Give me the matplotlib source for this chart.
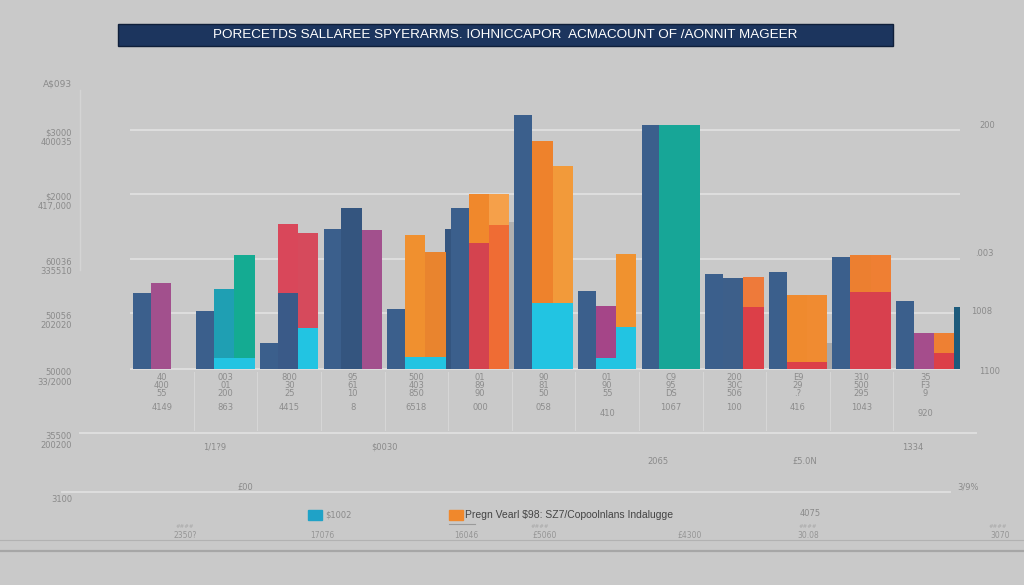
import numpy as np
import matplotlib.pyplot as plt
from matplotlib.patches import Rectangle
from matplotlib.lines import Line2D

# barras agrupadas con etiquetas "garabateadas" como en la imagen original

categorias = ["40", "003", "800", "95", "500", "01", "90", "01", "C9", "200", "E9", "310", "35"]

# alturas de cada serie por grupo
azul = [76, 58, 26, 140, 60, 161, 254, 78, 244, 95, 97, 112, 68]
medio = [86, 80, 145, 161, 134, 175, 228, 63, 244, 91, 74, 114, 36]
derecha = [0, 114, 136, 139, 117, 175, 203, 115, 244, 92, 74, 114, 36]
base_medio = [0, 11, 76, 0, 12, 126, 66, 11, 0, 0, 7, 77, 0]
base_derecha = [0, 11, 41, 0, 12, 144, 66, 42, 0, 62, 7, 77, 16]
borde = [0, 0, 0, 0, 140, 147, 0, 0, 0, 0, 26, 0, 62]

# etiquetas bajo cada grupo (4 filas)
fila1 = ["40", "003", "800", "95", "500", "01", "90", "01", "C9", "200", "E9", "310", "35"]
fila2 = ["400", "01", "30", "61", "403", "89", "81", "90", "95", "30C", "29", "500", "F3"]
fila3 = ["55", "200", "25", "10", "850", "90", "50", "55", "DS", "506", ".?", "295", "9"]
fila4 = ["4149", "863", "4415", "8", "6518", "000", "058", "410", "1067", "100", "416", "1043", "920"]

ticks_y = [239, 175, 110, 56, 0]
ticks_bajo = [-64, -123]
etiquetas_izq = ["$3000\n400035", "$2000\n417,000", "60036\n335510", "50056\n202020",
                 "50000\n33/2000", "35500\n200200", "3100"]

# colores
c_azul = '#3b5f8c'
col_medio = ['#a2508d', '#1f9fb3', '#d9475a', '#34557f', '#f0902f', '#f0882c', '#ee822c',
             '#a54588', '#17a697', '#3d5f8a', '#ef8a2e', '#ec7f30', '#a54d8c']
col_derecha = ['#a2508d', '#14ab92', '#d64a5c', '#a2508d', '#e9842e', '#f5a04a', '#f29a3a',
               '#f0922f', '#17a697', '#ee7a3a', '#f08b31', '#ef7f33', '#ee8033']
col_base_medio = ['#22c4e2', '#22c4e2', '#3a5a88', '#22c4e2', '#22c4e2', '#d4434f', '#22c4e2',
                  '#22c4e2', '#22c4e2', '#22c4e2', '#dc3f48', '#d8404e', '#22c4e2']
col_base_derecha = ['#22c4e2', '#22c4e2', '#22c4e2', '#22c4e2', '#22c4e2', '#ef6c34', '#22c4e2',
                    '#22c4e2', '#22c4e2', '#dc3f48', '#dc3f48', '#d8404e', '#dc3f48']
col_borde = ['#a9a9a9', '#a9a9a9', '#a9a9a9', '#a9a9a9', '#34557f', '#b0b0b0', '#a9a9a9',
             '#a9a9a9', '#a9a9a9', '#a9a9a9', '#a9a9a9', '#a9a9a9', '#1d5b7c']

fondo = '#c9c9c9'
W, H = 1024, 585


def px(x, y):
    return x / W, 1 - y / H


fig = plt.figure(figsize=(10.24, 5.85), dpi=100, facecolor=fondo)
ax = fig.add_axes([130 / W, 85 / H, 830 / W, 400 / H])
ax.set_facecolor(fondo)
ax.set_xlim(-0.503, 12.547)
ax.set_ylim(-131, 269)
ax.axis('off')

x = np.arange(len(categorias))

# lineas horizontales
for t in ticks_y:
    ax.axhline(t, color='#dedede', lw=1.4, zorder=0)
# las dos de abajo son mas largas que el area de barras
for t, x0, x1 in zip(ticks_bajo, [80, 62], [976, 950]):
    yy = 1 - (369 - t) / H
    fig.add_artist(Line2D([x0 / W, x1 / W], [yy, yy], color='#dedede', lw=1.4))

# barras
ax.bar(x - 0.32, azul, 0.28, color=c_azul, zorder=2)
ax.bar(x - 0.02, medio, 0.32, color=col_medio, zorder=2)
ax.bar(x + 0.30, derecha, 0.32, color=col_derecha, zorder=2)
ax.bar(x - 0.02, base_medio, 0.32, color=col_base_medio, zorder=3)
ax.bar(x + 0.30, base_derecha, 0.32, color=col_base_derecha, zorder=3)
ax.bar(x + 0.50, borde, 0.11, color=col_borde, zorder=1)

# separadores verticales de la zona de etiquetas
for i in x[:-1]:
    ax.plot([i + 0.5, i + 0.5], [-3, -61], color='#d6d6d6', lw=0.8, zorder=0)

# etiquetas bajo los grupos
for i in x:
    ax.text(i, -8, fila1[i], ha='center', va='center', fontsize=6, color='#8c8c8c')
    ax.text(i, -16, fila2[i], ha='center', va='center', fontsize=6, color='#8c8c8c')
    ax.text(i, -24, fila3[i], ha='center', va='center', fontsize=6, color='#8c8c8c')
    bajo = -45 if fila4[i] in ("410", "920") else -38
    ax.text(i, bajo, fila4[i], ha='center', va='center', fontsize=6, color='#8c8c8c')

# etiquetas del eje izquierdo
fig.text(*px(72, 84), "A$093", ha='right', va='center', fontsize=6.5, color='#8a8a8a')
for t, lab in zip(ticks_y + ticks_bajo, etiquetas_izq):
    fig.text(*px(72, 369 - t + 8), lab, ha='right', va='center', fontsize=6,
             color='#8a8a8a', linespacing=1.1)
fig.add_artist(Line2D([80 / W, 80 / W], [1 - 90 / H, 1 - 270 / H], color='#d4d4d4', lw=1))

# etiquetas del eje derecho
for xx, yy, s in [(987, 126, "200"), (984, 254, ".003"), (982, 311, "1008"),
                  (990, 371, "1100"), (968, 487, "3/9%")]:
    fig.text(*px(xx, yy), s, ha='center', va='center', fontsize=6, color='#8a8a8a')

# textos de la zona inferior
for xx, yy, s in [(215, 447, "1/1?9"), (385, 447, "$0030"), (658, 461, "2065"),
                  (805, 462, "£5.0N"), (913, 447, "1334"), (245, 487, "£00")]:
    fig.text(*px(xx, yy), s, ha='center', va='center', fontsize=6, color='#8a8a8a')

# leyenda
fig.add_artist(Rectangle(px(308, 520), 14 / W, 10 / H, color='#1fa2c7'))
fig.text(*px(325, 515), "$1002", ha='left', va='center', fontsize=6, color='#8a8a8a')
fig.add_artist(Rectangle(px(449, 520), 14 / W, 10 / H, color='#f0882c'))
fig.text(*px(465, 515), "Pregn Vearl $98: SZ7/Copoolnlans Indalugge", ha='left', va='center',
         fontsize=7.5, color='#444444', family='Liberation Sans')
fig.add_artist(Line2D([449 / W, 475 / W], [1 - 524 / H] * 2, color='#9a9a9a', lw=0.8))
fig.text(*px(810, 513), "4075", ha='center', va='center', fontsize=6, color='#8a8a8a')

# escala inferior
fig.add_artist(Line2D([0, 1], [1 - 540 / H] * 2, color='#b2b2b2', lw=0.8))
fig.add_artist(Line2D([0, 1], [1 - 551 / H] * 2, color='#a6a6a6', lw=1.6))
for xx, s in [(185, "2350?"), (322, "17076"), (466, "16046"), (545, "£5060"),
              (690, "£4300"), (808, "30.08"), (1000, "3070")]:
    fig.text(*px(xx, 536), s, ha='center', va='center', fontsize=5.5, color='#959595')
for xx in [185, 540, 808, 998]:
    fig.text(*px(xx, 527), "####", ha='center', va='center', fontsize=4, color='#a8a8a8')

# titulo en banda azul
fig.add_artist(Rectangle(px(118, 46), (893 - 118) / W, 22 / H, facecolor='#1c355e',
                         edgecolor='#0f1f3a', lw=1))
fig.text(*px(505, 35), "PORECETDS SALLAREE SPYERARMS. IOHNICCAPOR  ACMACOUNT OF /AONNIT MAGEER",
         ha='center', va='center', fontsize=9.7, color='white', family='Liberation Sans')

fig.savefig('out.png', dpi=100, facecolor=fondo)
